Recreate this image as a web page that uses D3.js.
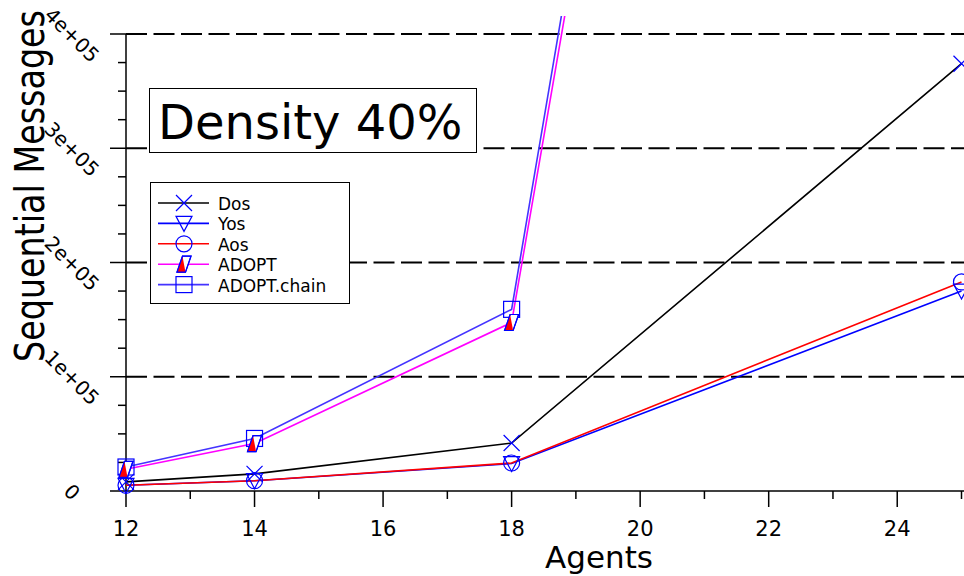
<!DOCTYPE html>
<html>
<head>
<meta charset="utf-8">
<script src="https://cdn.jsdelivr.net/npm/d3@7"></script>
<style>
  html, body { margin: 0; padding: 0; background: #fff; }
  svg { display: block; font-family: "DejaVu Sans", sans-serif; }
</style>
</head>
<body>
<svg id="chart" width="964" height="576"></svg>
<script>
// Number of agents on the x axis
const agents = [12, 14, 18, 25];

// Sequential message counts per algorithm
const dos        = [8000, 15000, 42000, 374000];
const yos        = [5000, 9000, 24000, 175000];
const aos        = [5000, 9000, 24500, 183000];
const adopt      = [19000, 41500, 147500, 2420000];
const adoptChain = [21000, 46000, 159000, 2480000];

const seriesNames = ["Dos", "Yos", "Aos", "ADOPT", "ADOPT.chain"];
const xMajorTicks = [12, 14, 16, 18, 20, 22, 24];
const xMinorTicks = [13, 15, 17, 19, 21, 23, 25];
const yMajorTicks = [0, 100000, 200000, 300000, 400000];
const yTickLabels = ["0", "1e+05", "2e+05", "3e+05", "4e+05"];
const yMinorTicks = [25000, 50000, 75000, 125000, 150000, 175000, 225000, 250000, 275000, 325000, 350000, 375000];

const series = [
  { name: seriesNames[0], values: dos,        color: "#000000", marker: "x" },
  { name: seriesNames[1], values: yos,        color: "#0000ff", marker: "tri" },
  { name: seriesNames[2], values: aos,        color: "#ff0000", marker: "circle" },
  { name: seriesNames[4], values: adoptChain, color: "#4433ff", marker: "square" },
  { name: seriesNames[3], values: adopt,      color: "#ff00ff", marker: "para" }
];

const svg = d3.select("#chart");
const x = d3.scaleLinear().domain([12, 25]).range([126, 961.5]);
const y = d3.scaleLinear().domain([0, 400000]).range([491, 34]);

const markerBlue = "#0000ff";

// Draws one marker symbol centred at (cx, cy)
function drawMarker(g, kind, cx, cy) {
  const m = g.append("g").attr("transform", `translate(${cx},${cy})`)
    .attr("stroke", markerBlue).attr("stroke-width", 1.2).attr("fill", "none");
  if (kind === "x") {
    m.append("path").attr("d", "M-8,-8L8,8M-8,8L8,-8");
  } else if (kind === "tri") {
    m.append("path").attr("d", "M-8,-7L8,-7L0,8Z");
  } else if (kind === "circle") {
    m.append("circle").attr("r", 8);
  } else if (kind === "square") {
    m.append("rect").attr("x", -8).attr("y", -8).attr("width", 16).attr("height", 16);
  } else if (kind === "para") {
    m.append("path").attr("d", "M-1.5,-8L7,-8L1.5,8L-7,8Z").attr("fill", "#fff");
    m.append("path").attr("d", "M-1.5,-8L1.5,8L-7,8Z").attr("fill", "#ff0000").attr("stroke", "none");
    m.append("path").attr("d", "M-1.5,-8L7,-8L1.5,8L-7,8Z");
  }
}

// Dashed horizontal grid lines
svg.append("g").selectAll("line")
  .data(yMajorTicks.slice(1))
  .join("line")
  .attr("x1", x(12)).attr("x2", 964)
  .attr("y1", d => y(d)).attr("y2", d => y(d))
  .attr("stroke", "#000").attr("stroke-width", 1.8)
  .attr("stroke-dasharray", "21,6.5");

// Axis lines and ticks
const axes = svg.append("g").attr("stroke", "#000").attr("stroke-width", 1.5);
axes.append("line").attr("x1", x(12)).attr("x2", 964).attr("y1", y(0)).attr("y2", y(0));
axes.append("line").attr("x1", x(12)).attr("x2", x(12)).attr("y1", y(400000)).attr("y2", y(0));
axes.selectAll(".xmaj").data(xMajorTicks).join("line").attr("class", "xmaj")
  .attr("x1", d => x(d)).attr("x2", d => x(d)).attr("y1", y(0)).attr("y2", y(0) + 16);
axes.selectAll(".xmin").data(xMinorTicks).join("line").attr("class", "xmin")
  .attr("x1", d => x(d)).attr("x2", d => x(d)).attr("y1", y(0)).attr("y2", y(0) + 8);
axes.selectAll(".ymaj").data(yMajorTicks).join("line").attr("class", "ymaj")
  .attr("x1", x(12) - 16).attr("x2", x(12)).attr("y1", d => y(d)).attr("y2", d => y(d));
axes.selectAll(".ymin").data(yMinorTicks).join("line").attr("class", "ymin")
  .attr("x1", x(12) - 8).attr("x2", x(12)).attr("y1", d => y(d)).attr("y2", d => y(d));

// Tick labels
svg.append("g").selectAll("text").data(xMajorTicks).join("text")
  .attr("x", d => x(d)).attr("y", 536)
  .attr("text-anchor", "middle").attr("font-size", 21).attr("fill", "#000")
  .text(d => d);
svg.append("g").selectAll("text").data(yMajorTicks).join("text")
  .attr("transform", d => `translate(72,${y(d) + 1}) rotate(45)`)
  .attr("text-anchor", "middle").attr("dominant-baseline", "central")
  .attr("font-size", 20).attr("fill", "#000")
  .text((d, i) => yTickLabels[i]);

// Axis titles
svg.append("text").attr("x", 599).attr("y", 568).attr("text-anchor", "middle")
  .attr("font-size", 31).attr("fill", "#000").text("Agents");
svg.append("text").attr("transform", "translate(44,186) rotate(-90)").attr("text-anchor", "middle")
  .attr("font-size", 40).attr("fill", "#000")
  .attr("textLength", 352).attr("lengthAdjust", "spacingAndGlyphs")
  .text("Sequential Messages");

// Data lines, clipped to the drawing area
svg.append("defs").append("clipPath").attr("id", "plotclip")
  .append("rect").attr("x", 0).attr("y", 16).attr("width", 964).attr("height", 560);
const plot = svg.append("g").attr("clip-path", "url(#plotclip)");
const line = d3.line().x((d, i) => x(agents[i])).y(d => y(d));
series.forEach(s => {
  plot.append("path").datum(s.values).attr("d", line)
    .attr("fill", "none").attr("stroke", s.color).attr("stroke-width", 1.6);
});
series.forEach(s => {
  s.values.forEach((v, i) => {
    if (v <= 400000) drawMarker(plot, s.marker, x(agents[i]), y(v));
  });
});

// Title box
svg.append("rect").attr("x", 149.5).attr("y", 88.5).attr("width", 327).attr("height", 64)
  .attr("fill", "#fff").attr("stroke", "#000").attr("stroke-width", 1);
svg.append("text").attr("x", 158).attr("y", 139).attr("font-size", 48).attr("fill", "#000")
  .text("Density 40%");

// Legend
const legendOrder = [
  { name: seriesNames[0], color: "#000000", marker: "x" },
  { name: seriesNames[1], color: "#0000ff", marker: "tri" },
  { name: seriesNames[2], color: "#ff0000", marker: "circle" },
  { name: seriesNames[3], color: "#ff00ff", marker: "para" },
  { name: seriesNames[4], color: "#4433ff", marker: "square" }
];
const legend = svg.append("g");
legend.append("rect").attr("x", 150.5).attr("y", 182.5).attr("width", 199).attr("height", 121)
  .attr("fill", "#fff").attr("stroke", "#000").attr("stroke-width", 1);
legendOrder.forEach((s, i) => {
  const ry = 203 + i * 20.4;
  legend.append("line").attr("x1", 158).attr("x2", 209).attr("y1", ry).attr("y2", ry)
    .attr("stroke", s.color).attr("stroke-width", 1.6);
  drawMarker(legend, s.marker, 184, ry);
  legend.append("text").attr("x", 218).attr("y", ry + 1).attr("dominant-baseline", "central")
    .attr("font-size", 17).attr("fill", "#000").text(s.name);
});
</script>
</body>
</html>
